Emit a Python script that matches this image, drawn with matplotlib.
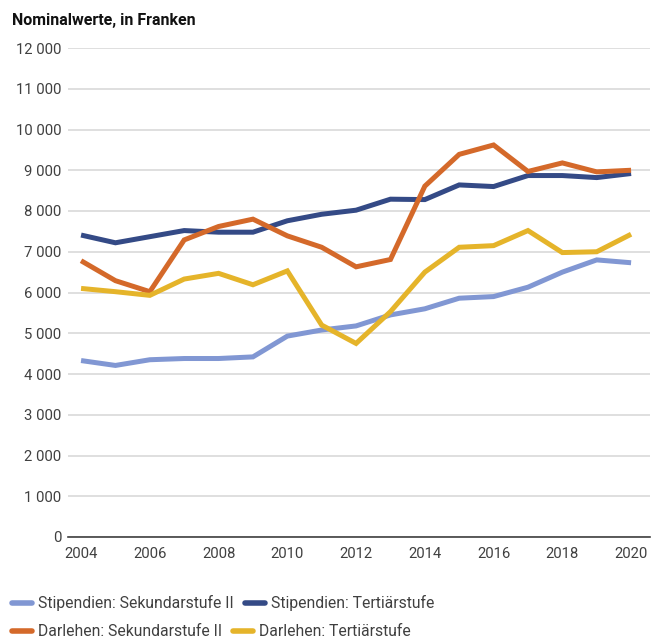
import matplotlib
matplotlib.use("Agg")
import matplotlib.pyplot as plt
from matplotlib.ticker import FuncFormatter
from matplotlib.lines import Line2D

plt.rcParams["font.family"] = ["Roboto", "DejaVu Sans"]

years = list(range(2004, 2021))

# Nominalwerte, in Franken
stip_sek2 = [4330, 4210, 4350, 4380, 4380, 4420, 4930, 5080, 5180, 5450,
             5600, 5860, 5900, 6130, 6500, 6800, 6730]
stip_tert = [7410, 7220, 7370, 7520, 7480, 7480, 7760, 7920, 8020, 8290,
             8280, 8640, 8600, 8870, 8870, 8820, 8920]
darl_sek2 = [6780, 6290, 6020, 7290, 7620, 7800, 7390, 7110, 6630, 6810,
             8610, 9390, 9620, 8970, 9180, 8960, 9000]
darl_tert = [6100, 6020, 5930, 6330, 6470, 6190, 6530, 5200, 4750, 5530,
             6500, 7110, 7150, 7520, 6980, 7000, 7430]

labels = ["Stipendien: Sekundarstufe II", "Stipendien: Tertiärstufe",
          "Darlehen: Sekundarstufe II", "Darlehen: Tertiärstufe"]
colors = ["#8197d3", "#344a86", "#d4692a", "#e5b42a"]
series = [stip_sek2, stip_tert, darl_sek2, darl_tert]

fig = plt.figure(figsize=(6.54, 6.39), dpi=100)
ax = fig.add_axes([68 / 654, 1 - 537 / 639, 582 / 654, (537 - 48) / 639])

for vals, c in zip(series, colors):
    ax.plot(years, vals, color=c, lw=3.6, solid_capstyle="butt",
            solid_joinstyle="miter")

ax.set_xlim(2003.62, 2020.55)
ax.set_ylim(0, 12000)
ax.set_xticks(range(2004, 2021, 2))
ax.set_yticks(range(0, 12001, 1000))
ax.yaxis.set_major_formatter(FuncFormatter(lambda v, p: f"{int(v):,}".replace(",", " ")))
ax.grid(axis="y", color="#d9d9d9", lw=1.2)
ax.set_axisbelow(True)
for s in ["top", "right", "left"]:
    ax.spines[s].set_visible(False)
ax.spines["bottom"].set_color("#404040")
ax.spines["bottom"].set_linewidth(1.2)
ax.tick_params(length=0, labelsize=10.7, labelcolor="#404040")
ax.tick_params(axis="y", pad=5)
ax.tick_params(axis="x", pad=7)

fig.text(12 / 654, 1 - 20 / 639, "Nominalwerte, in Franken", fontsize=11.5,
         fontweight="bold", va="center", ha="left", color="#111111")

handles = [Line2D([], [], color=c, lw=4, solid_capstyle="round") for c in colors]
for row, ypix in enumerate([603, 632]):
    leg = fig.legend(handles[2 * row:2 * row + 2], labels[2 * row:2 * row + 2],
                     ncol=2, loc="center left",
                     bbox_to_anchor=(6 / 654, 1 - ypix / 639),
                     frameon=False, fontsize=11.3, handlelength=1.25,
                     handletextpad=0.4, columnspacing=0.7, borderaxespad=0)
    for t in leg.get_texts():
        t.set_color("#404040")

fig.savefig("out.png", dpi=100)
